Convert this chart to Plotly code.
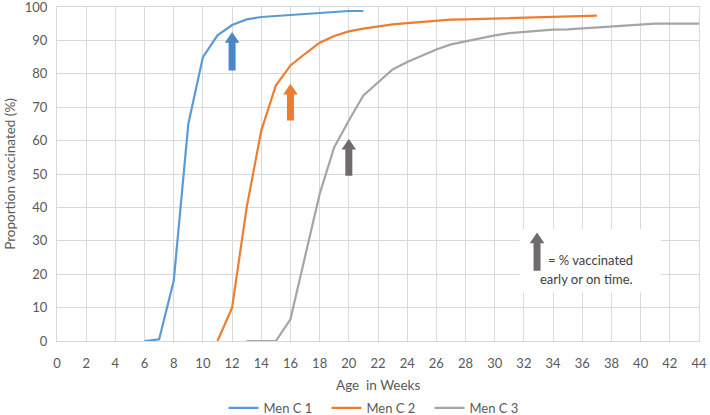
import plotly.graph_objects as go

# ---- data ----
weeks_c1 = list(range(6, 22))
men_c1 = [0, 0.5, 18, 65, 85, 91.5, 94.6, 96.3, 97.0, 97.3, 97.6, 97.9, 98.3, 98.4, 98.8, 98.8]

weeks_c2 = list(range(11, 38))
men_c2 = [0, 10, 40, 63, 76.5, 82.5, 86, 89.3, 91.3, 92.7, 93.5, 94.2, 94.8, 95.2, 95.6,
          95.9, 96.2, 96.3, 96.4, 96.6, 96.7, 96.7, 97.0, 97.1, 97.1, 97.1, 97.4]

weeks_c3 = list(range(13, 45))
men_c3 = [0, 0, 0, 6.5, 25, 44, 58, 66, 73.5, 77.5, 81.3, 83.5, 85.5, 87.3, 88.8, 89.7,
          90.7, 91.5, 92.2, 92.6, 92.9, 93.2, 93.3, 93.6, 93.9, 94.2, 94.4, 94.6, 95, 95, 95, 95]

series_names = ["Men C 1", "Men C 2", "Men C 3"]
series_colors = ["#5b9bd5", "#ed7d31", "#a5a5a5"]

# arrows: x (weeks), bottom, top (%)
arrow_x = [12, 16, 20, 32.9]
arrow_bottom = [81, 66, 49.5, 21]
arrow_top = [92.5, 77, 60.5, 32.5]
arrow_colors = ["#4a86c8", "#ed7d31", "#6e6a6e", "#6e6a6e"]

x_ticks = list(range(0, 45, 2))
y_ticks = list(range(0, 101, 10))

fig = go.Figure()
for xs, ys, name, col in zip([weeks_c1, weeks_c2, weeks_c3], [men_c1, men_c2, men_c3],
                             series_names, series_colors):
    fig.add_trace(go.Scatter(x=xs, y=ys, mode="lines", name=name,
                             line=dict(color=col, width=2.2)))

# legend key box (white background)
fig.add_shape(type="rect", x0=31.7, x1=41.4, y0=14.5, y1=33.5,
              fillcolor="white", line=dict(width=0), layer="above")

# arrows drawn as polygons (half widths in weeks, head height in %)
shaft_hw = 0.24
head_hw = 0.5
head_h = 3.2
for ax_, yb, yt, col in zip(arrow_x, arrow_bottom, arrow_top, arrow_colors):
    yh = yt - head_h
    path = (f"M {ax_-shaft_hw},{yb} L {ax_+shaft_hw},{yb} L {ax_+shaft_hw},{yh} "
            f"L {ax_+head_hw},{yh} L {ax_},{yt} L {ax_-head_hw},{yh} L {ax_-shaft_hw},{yh} Z")
    fig.add_shape(type="path", path=path, fillcolor=col, line=dict(width=0), layer="above")

fig.add_annotation(x=33.5, y=24.3, xref="x", yref="y", text="= % vaccinated",
                   showarrow=False, xanchor="left", yanchor="middle",
                   font=dict(size=13, color="#404040", family="Lato"))
fig.add_annotation(x=36.3, y=18.5, xref="x", yref="y", text="early or on time.",
                   showarrow=False, xanchor="center", yanchor="middle",
                   font=dict(size=13, color="#404040", family="Lato"))

# x axis title as a paper-positioned annotation
fig.add_annotation(x=0.5, y=-0.132, xref="paper", yref="paper", text="Age  in Weeks",
                   showarrow=False, xanchor="center", yanchor="middle",
                   font=dict(size=13.5, color="#595959", family="Lato"))

fig.update_layout(
    width=710, height=415,
    margin=dict(l=57, r=11, t=7, b=74),
    paper_bgcolor="white", plot_bgcolor="white",
    font=dict(family="Lato", size=13, color="#595959"),
    showlegend=True,
    legend=dict(orientation="h", x=0.5, xanchor="center", yref="container",
                y=0.017, yanchor="middle",
                font=dict(size=13, color="#595959"), itemwidth=30,
                entrywidth=58, entrywidthmode="pixels"),
)
fig.update_xaxes(range=[0, 44], tickvals=x_ticks, showgrid=True, gridcolor="#d9d9d9",
                 gridwidth=1, zeroline=False, showline=True, linecolor="#d9d9d9", mirror=True,
                 ticks="", ticklabelstandoff=10, ticklabeloverflow="allow", automargin=False)
fig.update_yaxes(range=[0, 100], tickvals=y_ticks, showgrid=True, gridcolor="#d9d9d9",
                 gridwidth=1, zeroline=False, showline=True, linecolor="#d9d9d9", mirror=True,
                 ticks="", ticklabelstandoff=6, ticklabeloverflow="allow", automargin=False,
                 title=dict(text="Proportion vaccinated (%)", standoff=6,
                            font=dict(size=13.5, color="#595959")))

fig.write_html("out.html", config={"displayModeBar": False},
               post_script="document.body.style.margin='0';")
